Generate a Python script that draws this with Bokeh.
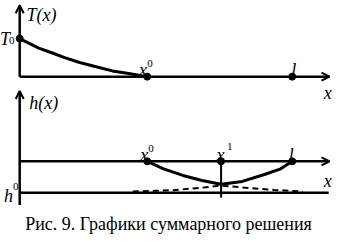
from bokeh.plotting import figure
from bokeh.models import Range1d, Arrow, OpenHead
from bokeh.core.properties import value
from bokeh.embed import file_html
from bokeh.resources import INLINE

# ---- data (schematic units) ----
T0 = 1.0
x0, x1, l_end = 4.68, 7.39, 10.0
x_axis_end = 11.37
T_top = 1.875
T_x = [0.0, 0.7, 1.2, 1.65, 2.2, 2.8, 3.4, 4.0, 4.68]
T_y = [1.0, 0.75, 0.62, 0.50, 0.37, 0.26, 0.15, 0.08, 0.0]

h_level = 1.0
h0 = 0.0
h_top = 3.24
h_bottom = -0.39
h_line_end = 11.34
x1_drop = -0.15
h_x = [4.68, 5.28, 5.99, 6.69, 7.39, 8.17, 8.98, 9.58, 10.0]
h_y = [1.0, 0.76, 0.55, 0.39, 0.27, 0.36, 0.58, 0.76, 1.0]
hd_x = [4.15, 4.93, 5.63, 6.69, 7.39, 8.38, 9.33, 10.39]
hd_y = [0.04, 0.06, 0.08, 0.16, 0.23, 0.15, 0.09, 0.04]

caption = "Рис. 9. Графики суммарного решения"
caption_x, caption_y = 5.46, -3.86

W, H = 332, 236
p = figure(width=W, height=H, output_backend="svg", toolbar_location=None,
           x_range=Range1d(-0.7042, 11.479), y_range=Range1d(-4.2, 2.0),
           min_border=0)
p.extra_y_ranges = {"h": Range1d(-1.394, 6.121)}
p.axis.visible = False
p.grid.visible = False
p.outline_line_color = None
p.background_fill_color = "white"
p.border_fill_color = "white"

K = "black"
AW = 2.5
serif = value("Liberation Serif")

def arrow(xs, ys, xe, ye, rng="default"):
    p.add_layout(Arrow(x_start=xs, y_start=ys, x_end=xe, y_end=ye,
                       line_width=AW, line_color=K, y_range_name=rng,
                       end=OpenHead(size=8, line_width=2, line_color=K)))

# ---- top panel ----
arrow(0, 0, 0, T_top)
arrow(0, 0, x_axis_end, 0)
p.line(T_x, T_y, line_width=3, line_color=K)
p.scatter([0, x0, l_end], [T0, 0, 0], size=7, color=K)

# ---- bottom panel ----
arrow(0, h_bottom, 0, h_top, "h")
arrow(0, h_level, x_axis_end, h_level, "h")
p.line([0, h_line_end], [h0, h0], line_width=AW, line_color=K, y_range_name="h")
p.line([x1, x1], [h_level, x1_drop], line_width=2, line_color=K, y_range_name="h")
p.line(h_x, h_y, line_width=3, line_color=K, y_range_name="h")
p.line(hd_x, hd_y, line_width=2, line_color=K, line_dash="6 4", y_range_name="h")
p.scatter([x0, x1, l_end], [h_level] * 3, size=7, color=K, y_range_name="h")

def txt(x, y, s, dx, dy, size=18, align="center", rng="default", italic=True):
    p.text(x=[x], y=[y], text=[s], x_offset=dx, y_offset=dy,
           text_font=serif, text_font_size=f"{size}px",
           text_font_style="italic" if italic else "normal",
           text_align=align, text_baseline="alphabetic", text_color=K,
           y_range_name=rng)

# top labels
txt(0, T_top, "T(x)", 6.7, 9.5, align="left")
txt(0, T0, "T", -9.7, 0, align="right")
txt(0, T0, "0", -10.6, 2, size=11, align="left", italic=False)
txt(x0, 0, "x", -4.3, -6.6)
txt(x0, 0, "0", 0, -13.2, size=11, align="left", italic=False)
txt(l_end, 0, "l", 1.5, -6.6)
txt(x_axis_end, 0, "x", -1.9, 16.2)

# bottom labels
txt(0, h_top, "h(x)", 9.6, 12.4, align="left", rng="h")
txt(x0, h_level, "x", -2.9, -6.6, rng="h")
txt(x0, h_level, "0", 1, -13.2, size=11, align="left", rng="h", italic=False)
txt(x1, h_level, "x", -0.5, -6.6, rng="h")
txt(x1, h_level, "1", 6, -15, size=11, align="left", rng="h", italic=False)
txt(l_end, h_level, "l", -1, -6.6, rng="h")
txt(x_axis_end, h_level, "x", -1.9, 20, rng="h")
txt(0, h0, "h", -6.7, 2.9, align="right", rng="h")
txt(0, h0, "0", -6.7, -6.7, size=11, align="left", rng="h", italic=False)

# caption
txt(caption_x, caption_y, caption, 0, 0, size=18, italic=False)

open("out.html", "w").write(file_html(p, INLINE))
